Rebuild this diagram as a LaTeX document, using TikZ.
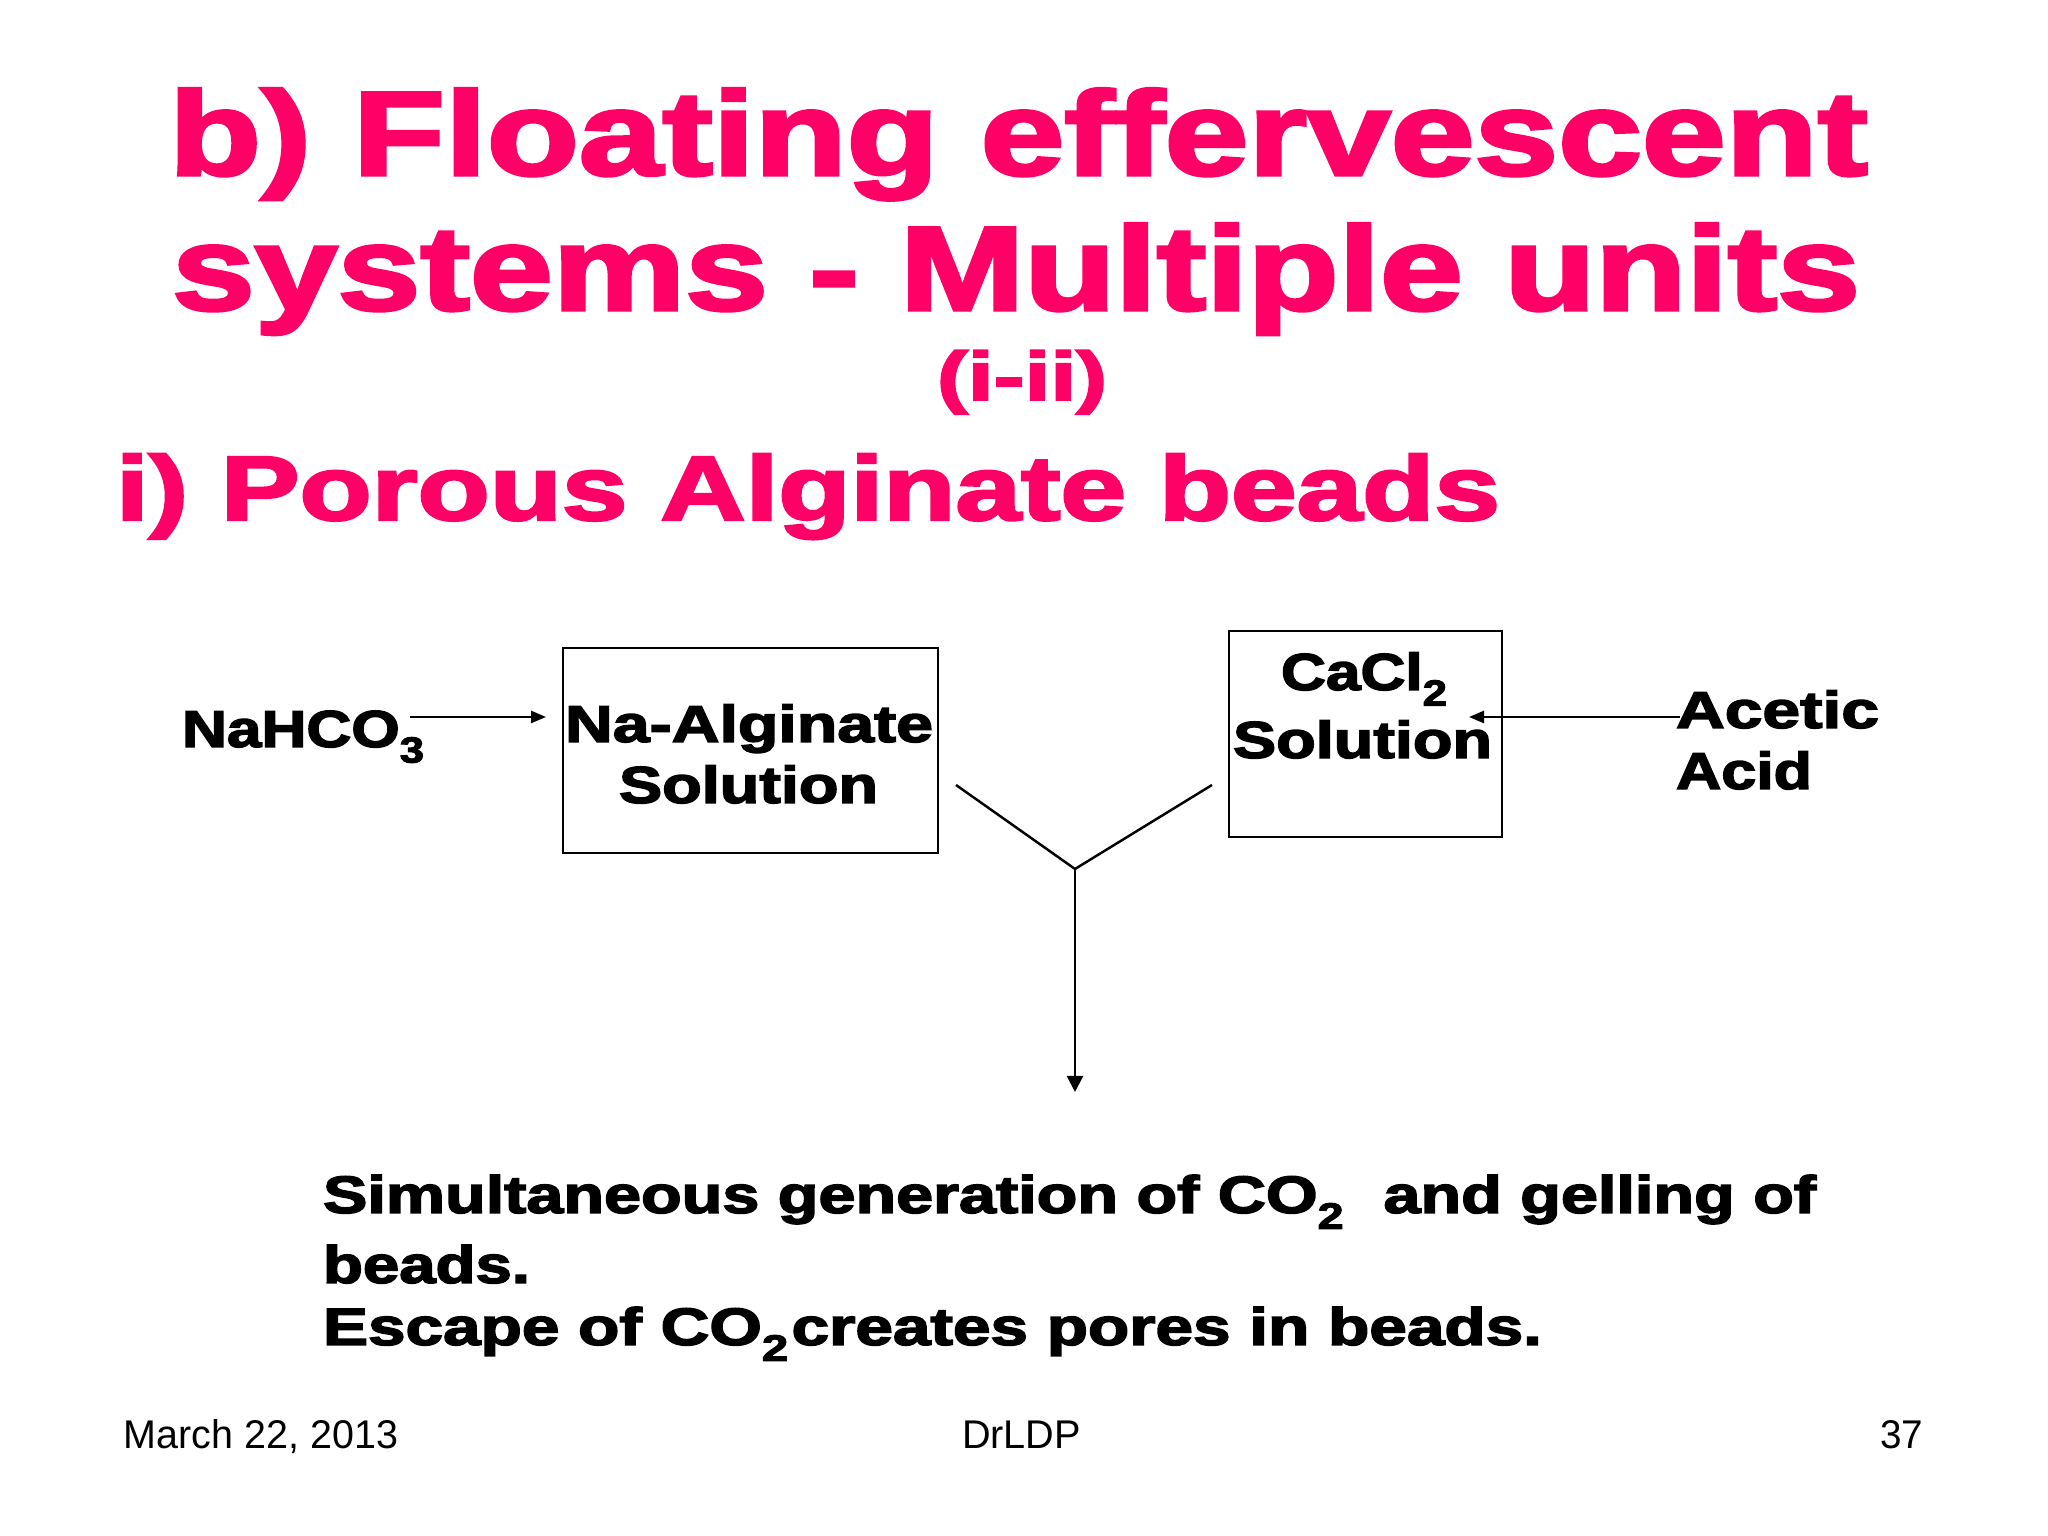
\documentclass[tikz,border=0pt]{standalone}
\usepackage{fontspec}
\usepackage{graphicx}
\setmainfont{Liberation Sans}
\newfontfamily\blk{Liberation Sans}[BoldFeatures={FakeBold=2.6}]
\usetikzlibrary{arrows.meta}
\definecolor{titlepink}{RGB}{255,0,102}
\newcommand\fitw[2]{\resizebox{#1}{\height}{#2}}
\newcommand\subs[1]{\raisebox{-0.3em}{\scalebox{0.7}{#1}}}
\begin{document}
\begin{tikzpicture}[x=1cm,y=1cm,
  ttl/.style={inner sep=0pt,outer sep=0pt,text=titlepink,font=\blk\bfseries\fontsize{34}{40}\selectfont},
  lbl/.style={inner sep=0pt,outer sep=0pt,text=black,font=\blk\bfseries\fontsize{14.8}{18}\selectfont},
  body/.style={inner sep=0pt,outer sep=0pt,text=black,font=\blk\bfseries\fontsize{15}{18}\selectfont},
  foot/.style={inner sep=0pt,outer sep=0pt,text=black,font=\fontsize{11.4}{14}\selectfont},
  solbox/.style={draw=black,line width=0.6pt,inner sep=0pt},
  conn/.style={draw=black,line width=0.7pt},
]
\useasboundingbox (0,0) rectangle (20.48,15.36);
\fill[white] (0,0) rectangle (20.48,15.36);

% titles
\node[ttl,anchor=base west] (t1) at (1.69,13.61) {\fitw{16.99cm}{b) Floating effervescent}};
\node[ttl,anchor=base west] (t2) at (1.72,12.26) {\fitw{16.88cm}{systems - Multiple units}};
\node[ttl,anchor=base,font=\blk\bfseries\fontsize{19.5}{22}\selectfont] (t3) at (10.22,11.36) {\fitw{1.70cm}{(i-ii)}};
\node[ttl,anchor=base west,font=\blk\bfseries\fontsize{26}{30}\selectfont] (t4) at (1.16,10.16) {\fitw{13.84cm}{i) Porous Alginate beads}};

% boxes
\node[solbox,minimum width=3.75cm,minimum height=2.05cm] (nabox) at (7.505,7.855) {};
\node[solbox,minimum width=2.73cm,minimum height=2.06cm] (cabox) at (13.655,8.02) {};

% box texts
\node[lbl,anchor=base] (na1) at (7.49,7.94) {\fitw{3.68cm}{Na-Alginate}};
\node[lbl,anchor=base] (na2) at (7.485,7.33) {\fitw{2.59cm}{Solution}};
\node[lbl,anchor=base west] (ca1) at (12.81,8.46) {\fitw{1.66cm}{CaCl\subs{2}}};
\node[lbl,anchor=base] (ca2) at (13.625,7.78) {\fitw{2.59cm}{Solution}};

% side labels
\node[lbl,anchor=base west] (nahco) at (1.82,7.89) {\fitw{2.42cm}{NaHCO\subs{3}}};
\node[lbl,anchor=base west] (acet1) at (16.76,8.08) {\fitw{2.03cm}{Acetic}};
\node[lbl,anchor=base west] (acet2) at (16.76,7.47) {\fitw{1.36cm}{Acid}};

% arrow coordinates
\coordinate (nahcoR) at (4.10,8.19);
\coordinate (naIn) at (5.46,8.19);
\coordinate (acetL) at (16.80,8.19);
\coordinate (caIn) at (14.69,8.19);
\coordinate (yl) at (9.56,7.51);
\coordinate (yr) at (12.12,7.51);
\coordinate (yj) at (10.75,6.67);
\coordinate (ytip) at (10.75,4.44);

\draw[conn,-{Triangle[length=0.15cm,width=0.12cm]}] (nahcoR) -- (naIn);
\draw[conn,-{Triangle[length=0.15cm,width=0.12cm]}] (acetL) -- (caIn);
\draw[conn] (yl) -- (yj) -- (yr);
\draw[conn,-{Triangle[length=0.16cm,width=0.16cm]}] (yj) -- (ytip);

% bottom text
\node[body,anchor=base west] (b1) at (3.23,3.23) {\fitw{14.93cm}{Simultaneous generation of CO\subs{2}\hspace{0.6em}and gelling of}};
\node[body,anchor=base west] (b2) at (3.23,2.53) {\fitw{2.07cm}{beads.}};
\node[body,anchor=base west] (b3) at (3.23,1.91) {\fitw{12.19cm}{Escape of CO\subs{2}\hspace{0.05em}creates pores in beads.}};

% footer
\node[foot,anchor=base west] (f1) at (1.24,0.87) {\fitw{2.74cm}{March 22, 2013}};
\node[foot,anchor=base west] (f2) at (9.62,0.87) {\fitw{1.19cm}{DrLDP}};
\node[foot,anchor=base west] (f3) at (18.80,0.87) {\fitw{0.43cm}{37}};
\end{tikzpicture}
\end{document}
